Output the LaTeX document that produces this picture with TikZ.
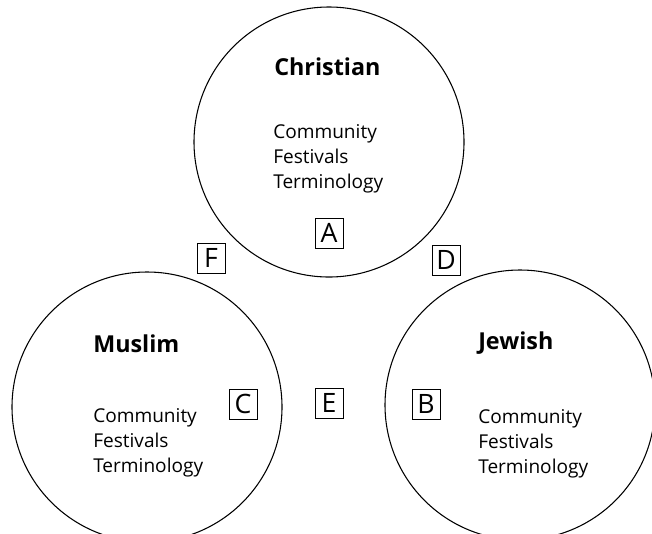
\documentclass[tikz,border=0pt]{standalone}
\usepackage{fontspec}
\setmainfont{Open Sans}
\begin{document}
\begin{tikzpicture}[x=0.75pt,y=-0.75pt,
  faith/.style={circle,draw,line width=0.8pt,minimum size=202.5pt,inner sep=0pt},
  title/.style={anchor=base west,inner sep=0pt,font=\bfseries\fontsize{17.5}{20}\selectfont},
  items/.style={anchor=base west,inner sep=0pt,align=left,font=\fontsize{14.3}{18.75}\selectfont},
  tag/.style={draw,line width=0.6pt,inner sep=0pt,minimum width=21pt,minimum height=22.5pt,font=\fontsize{20}{22}\selectfont}]
  \useasboundingbox (0,0) rectangle (652,533);
  \clip (0,0) rectangle (652,533);
  % the three faith circles
  \node[faith] (christian) at (329,142) {};
  \node[faith] (muslim) at (147,407) {};
  \node[faith] (jewish) at (520,405) {};
  % headings
  \node[title] (tchr) at (274,75) {Christian};
  \node[title] (tmus) at (93,352) {Muslim};
  \node[title] (tjew) at (478,349) {Jewish};
  % topic lists (anchored at the baseline of the last line)
  \node[items] (lchr) at (273,188) {Community\\Festivals\\Terminology};
  \node[items] (lmus) at (93,472) {Community\\Festivals\\Terminology};
  \node[items] (ljew) at (478,473) {Community\\Festivals\\Terminology};
  % lettered markers
  \node[tag] (a) at (329,233) {A};
  \node[tag] (f) at (211,258) {F};
  \node[tag] (d) at (446,260) {D};
  \node[tag] (c) at (243,404) {C};
  \node[tag] (e) at (329,403) {E};
  \node[tag] (b) at (426,404) {B};
\end{tikzpicture}
\end{document}
